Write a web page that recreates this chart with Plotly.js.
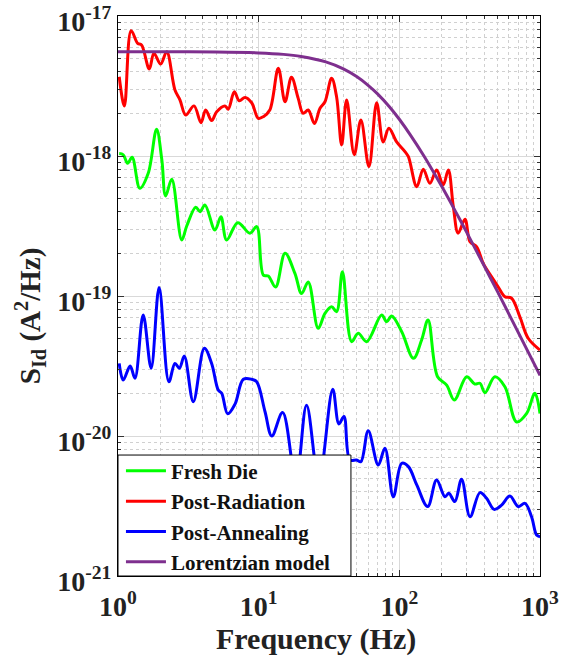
<!DOCTYPE html>
<html><head><meta charset="utf-8">
<script src="https://cdn.plot.ly/plotly-3.0.1.min.js"></script>
<style>body{margin:0;background:#fff}</style></head>
<body><div id="chart" style="width:571px;height:656px"></div>
<script>
// Frequency (Hz) and S_Id (A^2/Hz) values
const freshF = [1.02,1.09,1.17,1.26,1.43,1.64,1.88,2.05,2.18,2.41,2.84,3.08,3.57,3.83,4.15,4.89,5.39,5.92,7.10,8.67,9.68,10.8,11.7,13.2,15.4,18.1,20.2,22.5,26.5,29.6,33.0,35.8,39.4,45.8,51.0,58.6,74.8,81.3,88.2,104,126,144,160,187,217,246,301,344,374,406,478,563,682,804,920,1000];
const freshS = [1.04e-18,1.02e-18,8.87e-19,9.79e-19,5.88e-19,7.52e-19,1.55e-18,9.36e-19,5.18e-19,6.82e-19,2.51e-19,3.16e-19,4.31e-19,4.00e-19,4.47e-19,2.96e-19,3.68e-19,2.51e-19,3.34e-19,2.81e-19,3.13e-19,1.41e-19,1.39e-19,1.16e-19,2.02e-19,1.45e-19,1.04e-19,1.26e-19,5.88e-20,7.52e-20,8.39e-20,7.73e-20,1.49e-19,4.72e-20,5.42e-20,4.72e-20,7.31e-20,6.55e-20,7.19e-20,5.56e-20,3.59e-20,4.85e-20,6.75e-20,2.65e-20,2.31e-20,1.81e-20,2.65e-20,2.35e-20,2.38e-20,2.04e-20,2.65e-20,2.25e-20,1.26e-20,1.45e-20,2.02e-20,1.45e-20];

const radF = [1.02,1.11,1.24,1.38,1.47,1.67,1.80,2.01,2.22,2.54,2.76,3.03,3.47,3.89,4.20,4.63,5.03,5.76,6.08,6.71,7.28,8.00,8.92,9.94,10.8,12.0,13.8,15.4,17.1,19.1,20.7,22.5,24.9,27.3,29.6,33.0,35.8,38.9,42.2,47.8,53.3,60.8,69.0,76.8,84.3,95.7,110,116,133,148,165,184,205,223,242,262,293,318,354,395,453,505,563,628,719,824,1000];
const radS = [3.68e-18,2.28e-18,7.85e-18,6.38e-18,6.21e-18,4.18e-18,5.42e-18,4.54e-18,5.56e-18,2.96e-18,2.51e-18,1.96e-18,2.28e-18,1.73e-18,2.13e-18,1.79e-18,2.07e-18,2.28e-18,2.16e-18,2.88e-18,2.48e-18,2.62e-18,2.40e-18,1.86e-18,1.91e-18,2.13e-18,4.23e-18,2.44e-18,3.65e-18,2.58e-18,2.02e-18,2.13e-18,1.71e-18,2.19e-18,2.44e-18,3.59e-18,2.65e-18,1.20e-18,2.51e-18,1.02e-18,1.81e-18,8.39e-19,2.40e-18,1.26e-18,1.58e-18,1.26e-18,1.07e-18,9.89e-19,6.04e-19,8.04e-19,6.38e-19,7.94e-19,6.21e-19,7.94e-19,4.35e-19,2.81e-19,3.53e-19,2.44e-19,2.25e-19,1.71e-19,1.37e-19,1.16e-19,9.89e-20,9.64e-20,7.11e-20,4.99e-20,4.11e-20];

const annF = [1.02,1.09,1.22,1.32,1.51,1.72,1.96,2.30,2.54,2.73,2.96,3.43,4.11,4.63,5.16,5.46,6.02,6.79,7.78,8.92,9.68,11.1,12.4,14.8,18.4,21.9,26.8,33.6,37.2,40.4,44.5,49.7,53.3,60.1,70.8,79.0,90.6,104,116,133,159,184,211,225,248,277,318,374,417,472,533,611,700,782,871,946,1000];
const annS = [3.30e-20,2.51e-20,3.16e-20,2.58e-20,7.31e-20,3.05e-20,1.15e-19,2.44e-20,3.30e-20,3.05e-20,3.72e-20,1.76e-20,4.23e-20,3.30e-20,2.13e-20,2.02e-20,1.44e-20,1.69e-20,2.54e-20,2.54e-20,2.44e-20,1.49e-20,1.00e-20,1.47e-20,4.85e-21,1.66e-20,4.85e-21,2.16e-20,1.22e-20,1.38e-20,6.74e-21,6.74e-21,6.55e-21,1.09e-20,6.21e-21,8.17e-21,3.68e-21,6.38e-21,6.04e-21,4.47e-21,3.13e-21,4.85e-21,3.68e-21,3.90e-21,3.40e-21,4.91e-21,2.65e-21,3.94e-21,3.59e-21,2.99e-21,3.21e-21,3.72e-21,3.13e-21,3.30e-21,2.65e-21,1.96e-21,1.91e-21];

const lorF = [1,2,5,10,15,20,30,40,50,60,70,85,100,120,150,200,250,300,400,500,700,1000];
const lorS = [5.56e-18,5.55e-18,5.53e-18,5.45e-18,5.32e-18,5.14e-18,4.70e-18,4.19e-18,3.68e-18,3.20e-18,2.78e-18,2.25e-18,1.83e-18,1.41e-18,9.95e-19,6.07e-19,4.04e-19,2.87e-19,1.65e-19,1.07e-19,5.50e-20,2.71e-20];

const seriesNames = ['Fresh Die','Post-Radiation','Post-Annealing','Lorentzian model'];
const xTickVals = [1,10,100,1000];
const xTickText = ['10<sup>0</sup>','10<sup>1</sup>','10<sup>2</sup>','10<sup>3</sup>'];
const yTickVals = [1e-21,1e-20,1e-19,1e-18,1e-17];
const yTickText = ['10<sup>-21</sup>','10<sup>-20</sup>','10<sup>-19</sup>','10<sup>-18</sup>','10<sup>-17</sup>'];
const xTitle = 'Frequency (Hz)';
const yTitle = 'S<sub>Id</sub> (A<sup>2</sup>/Hz)';

const serif = 'Liberation Serif';
const bold = s => '<b>' + s + '</b>';
function tr(x, y, name, color) {
  return {x: x, y: y, name: bold(name), type: 'scatter', mode: 'lines',
    line: {color: color, width: 3, shape: 'spline', smoothing: 1}};
}
const data = [
  tr(freshF, freshS, seriesNames[0], '#00ff00'),
  tr(radF, radS, seriesNames[1], '#ff0000'),
  tr(annF, annS, seriesNames[2], '#0000ff'),
  tr(lorF, lorS, seriesNames[3], '#7e2f8e')
];
const axisCommon = {
  type: 'log', showline: true, linecolor: '#000', linewidth: 1, mirror: 'allticks',
  ticks: 'inside', ticklen: 6, tickcolor: '#333', tickmode: 'array',
  ticklabeloverflow: 'allow',
  showgrid: true, gridcolor: '#d9d9d9', gridwidth: 1, zeroline: false,
  tickfont: {family: serif, size: 28, color: '#222'},
  minor: {dtick: 'D1', ticks: 'inside', ticklen: 3, tickcolor: '#333', showgrid: true,
          gridcolor: '#d0d0d0', griddash: 'dot', gridwidth: 1}
};
const layout = {
  width: 571, height: 656, paper_bgcolor: '#fff', plot_bgcolor: '#fff',
  margin: {l: 118, r: 31, t: 16, b: 80},
  showlegend: true,
  legend: {x: 0.007, y: -0.012, xanchor: 'left', yanchor: 'bottom', bgcolor: 'rgba(0,0,0,0)',
    borderwidth: 0, itemwidth: 40,
    font: {family: serif, size: 21, color: '#111'}},
  xaxis: Object.assign({}, axisCommon, {range: [0, 3], tickvals: xTickVals, ticktext: xTickText.map(bold), ticklabelstandoff: 5}),
  yaxis: Object.assign({}, axisCommon, {range: [-21, -17], tickvals: yTickVals, ticktext: yTickText.map(bold), ticklabelshift: 5}),
  shapes: [
    {type: 'rect', xref: 'paper', yref: 'paper', x0: 0, x1: 0.552, y0: 0, y1: 0.216,
     fillcolor: '#fff', line: {color: '#000', width: 1}, layer: 'above'}
  ],
  annotations: [
    {xref: 'paper', yref: 'paper', x: 0.469, y: -0.112, xanchor: 'center', yanchor: 'middle',
     showarrow: false, text: bold(xTitle), font: {family: serif, size: 30, color: '#222'}},
    {xref: 'paper', yref: 'paper', x: -0.2085, y: 0.464, xanchor: 'center', yanchor: 'middle',
     textangle: -90, showarrow: false, text: bold(yTitle), font: {family: serif, size: 29, color: '#222'}}
  ]
};
Plotly.newPlot('chart', data, layout, {displayModeBar: false, staticPlot: true});
</script></body></html>
